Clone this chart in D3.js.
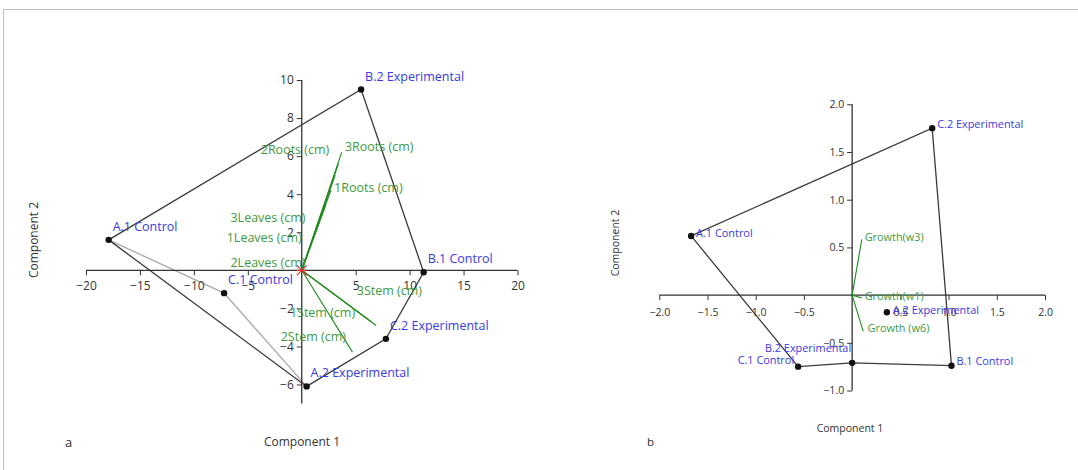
<!DOCTYPE html>
<html><head><meta charset="utf-8">
<script src="https://cdn.jsdelivr.net/npm/d3@7"></script>
<style>
html,body{margin:0;padding:0;background:#fff;}
svg{display:block;font-family:"Open Sans","Noto Sans",sans-serif;}
</style></head>
<body>
<svg id="chart" width="1078" height="470"></svg>
<script>
// ---------- Panel a data ----------
const groupsA = ["A.1 Control","B.2 Experimental","B.1 Control","C.2 Experimental","A.2 Experimental","C.1 Control"];
const comp1A = [-17.9, 5.5, 11.3, 7.8, 0.45, -7.2];
const comp2A = [1.6, 9.5, -0.1, -3.6, -6.1, -1.2];
const hullA = ["A.1 Control","B.2 Experimental","B.1 Control","C.2 Experimental","A.2 Experimental","A.1 Control"];
const innerA = ["A.1 Control","C.1 Control","A.2 Experimental"];
const loadNamesA = ["3Roots (cm)","2Roots (cm)","1Roots (cm)","3Leaves (cm)","1Leaves (cm)","2Leaves (cm)","3Stem (cm)","1Stem (cm)","2Stem (cm)"];
const loadXA = [3.7, 3.4, 2.7, 3.1, 2.2, 0.3, 6.9, 6.45, 4.7];
const loadYA = [6.2, 5.6, 4.2, 5.0, 3.4, 0.6, -2.9, -2.7, -4.3];
const xTicksA = [-20,-15,-10,-5,5,10,15,20];
const yTicksA = [-6,-4,-2,2,4,6,8,10];

// ---------- Panel b data ----------
const groupsB = ["A.1 Control","C.2 Experimental","B.1 Control","B.2 Experimental","C.1 Control","A.2 Experimental"];
const comp1B = [-1.67, 0.83, 1.03, 0.0, -0.56, 0.36];
const comp2B = [0.62, 1.75, -0.74, -0.71, -0.75, -0.18];
const hullB = ["A.1 Control","C.2 Experimental","B.1 Control","B.2 Experimental","C.1 Control","A.1 Control"];
const loadNamesB = ["Growth(w3)","Growth(w1)","Growth (w6)"];
const loadXB = [0.1, 0.1, 0.115];
const loadYB = [0.585, -0.03, -0.38];
const xTicksB = [-2.0,-1.5,-1.0,-0.5,0.5,1.0,1.5,2.0];
const yTicksB = [-1.0,-0.5,0.5,1.0,1.5,2.0];

// ---------- label placement (layout, in data units) ----------
const loadLabelA = {
  "3Roots (cm)":[4.0,6.25,"start"], "2Roots (cm)":[2.55,6.1,"end"], "1Roots (cm)":[3.0,4.1,"start"],
  "3Leaves (cm)":[0.35,2.54,"end"], "1Leaves (cm)":[0.0,1.48,"end"], "2Leaves (cm)":[0.35,0.2,"end"],
  "3Stem (cm)":[5.1,-1.3,"start"], "1Stem (cm)":[-1.1,-2.45,"start"], "2Stem (cm)":[-1.95,-3.72,"start"]
};
const loadLabelB = {
  "Growth(w3)":[0.13,0.57,"start"], "Growth(w1)":[0.13,-0.055,"start"], "Growth (w6)":[0.16,-0.385,"start"]
};
// point label offsets in px: dx, dy(baseline), anchor
const ptLabelA = {};
groupsA.forEach(g => ptLabelA[g] = [4, -9, "start"]);
const ptLabelB = {
  "A.1 Control":[5,1,"start"], "C.2 Experimental":[5,0,"start"], "B.1 Control":[5,-1,"start"],
  "A.2 Experimental":[6,2,"start"], "C.1 Control":[-4,-3,"end"], "B.2 Experimental":[-1,-11,"end"]
};

const svg = d3.select("#chart");
const blue = "#3a3ae0", greenT = "#3f9a3f", greenL = "#1f8a1f", dark = "#3a3a3a";

// frame
svg.append("line").attr("x1",3.5).attr("x2",1078).attr("y1",9.5).attr("y2",9.5).attr("stroke","#bdbdbd");
svg.append("line").attr("x1",3.5).attr("x2",3.5).attr("y1",9.5).attr("y2",470).attr("stroke","#bdbdbd");

function panel(o){
  const g = svg.append("g");
  const x = o.x, y = o.y;
  const idx = n => o.groups.indexOf(n);
  const line = d3.line().x(n => x(o.c1[idx(n)])).y(n => y(o.c2[idx(n)]));
  if (o.inner) g.append("path").attr("d", line(o.inner)).attr("fill","none").attr("stroke","#a8a8a8").attr("stroke-width",1.3);
  g.append("path").attr("d", line(o.hull)).attr("fill","none").attr("stroke",dark).attr("stroke-width",1.3);

  // axes
  const xa = g.append("g").attr("transform",`translate(0,${y(0)})`)
    .call(d3.axisBottom(x).tickValues(o.xt).tickSize(5).tickFormat(o.fmt));
  const ya = g.append("g").attr("transform",`translate(${x(0)},0)`)
    .call(d3.axisLeft(y).tickValues(o.yt).tickSize(5).tickFormat(o.fmt));
  [xa,ya].forEach(a => {
    a.select(".domain").remove();
    a.selectAll("line").attr("stroke","#333");
    a.selectAll("text").attr("fill","#333").style("font-size",o.tfs+"px").style("font-family",'"Open Sans",sans-serif');
  });
  xa.selectAll("text").attr("dy",o.xdy);
  g.append("line").attr("x1",x(o.xd[0])).attr("x2",x(o.xd[1])).attr("y1",y(0)).attr("y2",y(0)).attr("stroke","#333").attr("stroke-width",1.3);
  g.append("line").attr("x1",x(0)).attr("x2",x(0)).attr("y1",y(o.yd[0])).attr("y2",y(o.yd[1])).attr("stroke","#333").attr("stroke-width",1.3);

  // loadings
  o.ln.forEach((n,i) => {
    g.append("line").attr("x1",x(0)).attr("y1",y(0)).attr("x2",x(o.lx[i])).attr("y2",y(o.ly[i]))
      .attr("stroke",greenL).attr("stroke-width",1.1);
    const p = o.llab[n];
    g.append("text").attr("x",x(p[0])).attr("y",y(p[1])).attr("text-anchor",p[2])
      .attr("fill",greenT).style("font-size",o.fs+"px").text(n);
  });
  if (o.origin) {
    const s = 5;
    g.append("path").attr("d",`M${x(0)-s},${y(0)-s}L${x(0)+s},${y(0)+s}M${x(0)-s},${y(0)+s}L${x(0)+s},${y(0)-s}M${x(0)-s},${y(0)}L${x(0)+s},${y(0)}`)
      .attr("stroke","#e03030").attr("stroke-width",1.2);
  }
  // points
  o.groups.forEach((n,i) => {
    g.append("circle").attr("cx",x(o.c1[i])).attr("cy",y(o.c2[i])).attr("r",3.2).attr("fill","#111");
    const p = o.plab[n];
    g.append("text").attr("x",x(o.c1[i])+p[0]).attr("y",y(o.c2[i])+p[1]).attr("text-anchor",p[2])
      .attr("fill",blue).style("font-size",o.fs+"px").text(n);
  });
  // axis titles
  g.append("text").attr("x",o.t1[0]).attr("y",o.t1[1]).attr("text-anchor","middle").attr("fill","#333")
    .style("font-size",o.tfs+"px").text("Component 1");
  g.append("text").attr("transform",`translate(${o.t2[0]},${o.t2[1]}) rotate(-90)`).attr("text-anchor","middle")
    .attr("fill","#333").style("font-size",o.tfs+"px").text("Component 2");
  g.append("text").attr("x",o.tag[0]).attr("y",o.tag[1]).attr("fill","#333").style("font-size",(o.tfs+1)+"px").text(o.tagText);
}

panel({
  x: d3.scaleLinear().domain([-20,20]).range([86,517.5]),
  y: d3.scaleLinear().domain([-6,10]).range([384.5,80]),
  xd:[-20,20], yd:[-7,10], xt:xTicksA, yt:yTicksA, fmt:d3.format("d"),
  groups:groupsA, c1:comp1A, c2:comp2A, hull:hullA, inner:innerA,
  ln:loadNamesA, lx:loadXA, ly:loadYA, llab:loadLabelA, plab:ptLabelA, origin:true,
  fs:12.5, tfs:12, xdy:"1.0em", t1:[302,446], t2:[38,240], tag:[65,447], tagText:"a"
});
panel({
  x: d3.scaleLinear().domain([-2,2]).range([659.3,1045]),
  y: d3.scaleLinear().domain([-1,2]).range([390.5,104.3]),
  xd:[-2,2], yd:[-1,2], xt:xTicksB, yt:yTicksB, fmt:d3.format(".1f"),
  groups:groupsB, c1:comp1B, c2:comp2B, hull:hullB, inner:null,
  ln:loadNamesB, lx:loadXB, ly:loadYB, llab:loadLabelB, plab:ptLabelB, origin:false,
  fs:10.9, tfs:10.5, xdy:"1.25em", t1:[850,432], t2:[619,243], tag:[647,446], tagText:"b"
});
</script>
</body></html>
